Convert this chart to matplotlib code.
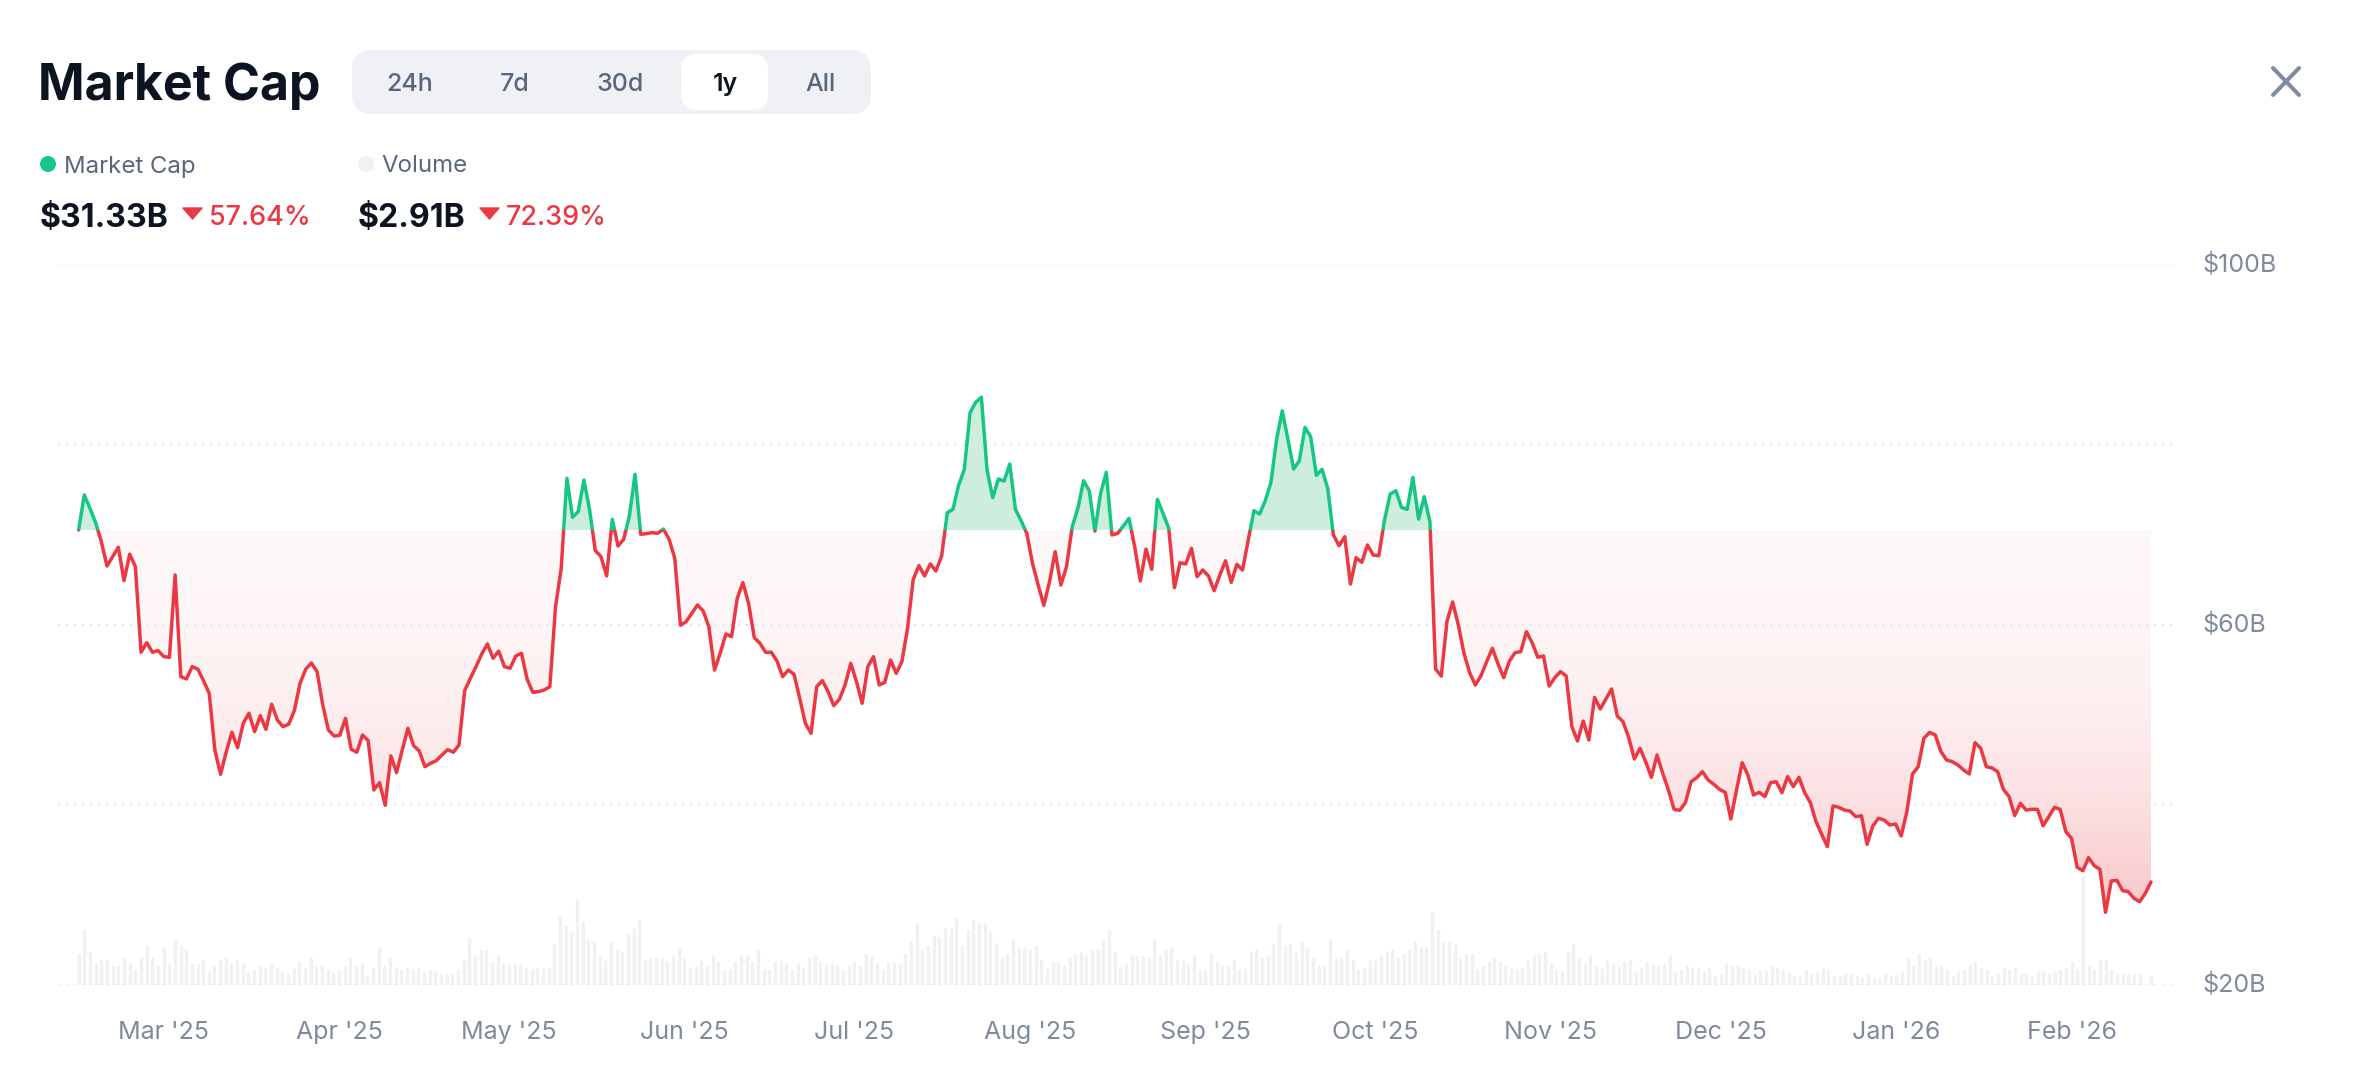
#!/usr/bin/env python3

# Market Cap card: one year of market cap with volume bars underneath

import numpy as np
import pandas as pd
import matplotlib
matplotlib.use("Agg")
import matplotlib.pyplot as plt
import matplotlib.dates as mdates
from matplotlib.patches import FancyBboxPatch, Circle, Polygon, Rectangle
from matplotlib.path import Path
from matplotlib.transforms import ScaledTranslation

plt.rcParams['font.family'] = ['Inter', 'DejaVu Sans']

GREEN = "#16C784"
GREEN_FILL = "#CDEEDD"
RED = "#EA3943"
DARK = "#0D1421"
SLATE = "#58667E"
AXIS_GREY = "#808A9D"
PILL = "#EFF1F5"
GRID = "#E4E6EA"

# market cap in $B, one value per day
market_cap = [
    70.56, 74.45, 72.97, 71.37, 69.26, 66.56, 67.6, 68.63, 64.93, 67.86, 66.49, 56.97, 58.04, 56.97, 57.15,
    56.49, 56.41, 65.56, 54.26, 54.0, 55.37, 55.1, 53.8, 52.41, 46.1, 43.41, 45.9, 48.08, 46.37, 49.08,
    50.19, 48.15, 49.93, 48.41, 51.19, 49.45, 48.71, 48.97, 50.49, 53.52, 55.08, 55.78, 54.82, 51.12, 48.34,
    47.67, 47.74, 49.63, 46.19, 45.86, 47.78, 47.15, 41.67, 42.48, 39.97, 45.45, 43.6, 46.1, 48.52, 46.6,
    46.0, 44.26, 44.63, 44.93, 45.56, 46.15, 45.86, 46.67, 52.71, 54.08, 55.37, 56.78, 57.89, 56.3, 57.1,
    55.37, 55.19, 56.56, 56.86, 53.97, 52.52, 52.6, 52.78, 53.15, 62.04, 66.3, 76.3, 71.97, 72.6, 76.1,
    72.78, 68.26, 67.6, 65.45, 71.74, 68.78, 69.52, 72.1, 76.74, 70.08, 70.15, 70.26, 70.19, 70.67, 69.52,
    67.41, 59.97, 60.37, 61.3, 62.23, 61.56, 59.82, 55.0, 56.86, 59.0, 58.71, 62.97, 64.71, 62.41, 58.6,
    57.97, 56.97, 56.97, 56.0, 54.26, 55.0, 54.52, 51.86, 49.08, 47.97, 53.15, 53.82, 52.6, 51.04, 51.75,
    53.34, 55.74, 53.71, 51.3, 55.37, 56.48, 53.34, 53.63, 56.11, 54.63, 55.93, 59.63, 65.08, 66.6, 65.45,
    66.78, 66.0, 67.67, 72.49, 72.86, 75.56, 77.29, 83.59, 84.74, 85.3, 77.22, 74.15, 76.22, 76.0, 77.89,
    72.85, 71.59, 70.18, 66.85, 64.44, 62.18, 64.81, 68.15, 64.44, 66.48, 70.92, 72.96, 76.03, 74.92, 70.44,
    74.63, 76.96, 70.0, 70.18, 71.0, 71.85, 68.7, 64.89, 68.44, 66.18, 73.96, 72.4, 70.74, 64.14, 66.92,
    66.78, 68.52, 65.37, 66.11, 65.44, 63.81, 65.55, 67.14, 64.74, 66.74, 66.11, 69.44, 72.7, 72.33, 73.81,
    75.85, 80.63, 83.81, 80.55, 77.33, 78.26, 81.96, 80.92, 76.63, 77.29, 75.18, 70.0, 68.81, 69.81, 64.55,
    67.48, 66.96, 68.89, 67.78, 67.7, 71.66, 74.55, 74.92, 73.07, 72.85, 76.4, 71.77, 74.26, 71.48, 55.11,
    54.33, 60.37, 62.56, 60.0, 56.85, 54.7, 53.33, 54.37, 55.93, 57.41, 55.67, 54.15, 56.0, 56.93, 57.04,
    59.26, 58.04, 56.41, 56.56, 53.22, 54.15, 54.82, 54.33, 48.7, 47.11, 49.33, 47.22, 51.96, 50.67, 51.78,
    52.89, 49.89, 49.26, 47.52, 45.11, 46.3, 44.81, 43.07, 45.56, 43.52, 41.67, 39.52, 39.41, 40.26, 42.59,
    43.04, 43.7, 42.78, 42.3, 41.74, 41.41, 38.44, 41.67, 44.7, 43.33, 41.11, 41.41, 40.93, 42.48, 42.59,
    41.37, 43.15, 42.04, 43.07, 41.37, 40.26, 38.15, 36.74, 35.37, 39.89, 39.74, 39.44, 39.33, 38.7, 38.81,
    35.63, 37.67, 38.52, 38.33, 37.78, 37.89, 36.56, 39.26, 43.44, 44.26, 47.41, 48.07, 47.78, 45.93, 45.0,
    44.81, 44.44, 43.89, 43.45, 46.93, 46.3, 44.26, 44.11, 43.7, 41.74, 40.93, 38.82, 40.19, 39.44, 39.52,
    39.52, 37.7, 38.7, 39.74, 39.52, 37.04, 36.3, 33.07, 32.7, 34.15, 33.26, 32.85, 28.07, 31.56, 31.63,
    30.48, 30.37, 29.63, 29.26, 30.19, 31.45,
]

# daily volume in $B
volume = [
    9.9, 17.9, 10.6, 6.6, 7.9, 7.9, 5.9, 5.9, 8.6, 6.6, 4.6, 8.6, 12.6, 8.6, 5.9, 11.9, 6.6, 14.6, 12.6, 11.2,
    6.6, 6.6, 7.9, 3.9, 5.9, 7.9, 8.6, 6.6, 7.9, 6.6, 3.9, 4.6, 5.9, 5.2, 6.6, 5.2, 3.9, 3.2, 5.2, 7.2,
    5.2, 8.6, 5.9, 5.9, 4.6, 3.9, 4.6, 5.9, 8.6, 5.9, 6.6, 2.6, 5.2, 11.9, 5.9, 8.6, 5.2, 4.6, 5.2, 4.6,
    5.2, 3.9, 4.6, 3.9, 3.2, 3.2, 3.2, 4.6, 7.9, 15.2, 9.2, 11.2, 11.2, 7.2, 9.2, 6.6, 6.6, 6.6, 5.9, 5.2,
    4.6, 5.2, 5.2, 5.2, 13.2, 22.6, 19.2, 17.2, 27.9, 20.6, 14.6, 13.9, 9.2, 7.9, 13.9, 11.2, 10.6, 16.6, 18.6, 21.2,
    7.9, 8.6, 8.6, 8.6, 7.2, 9.2, 11.9, 8.6, 5.2, 5.9, 7.9, 5.9, 9.2, 7.2, 4.6, 4.6, 7.2, 9.2, 9.2, 7.2,
    11.2, 4.6, 4.6, 7.2, 7.9, 6.6, 4.6, 6.6, 5.2, 8.6, 9.2, 7.2, 6.6, 6.6, 5.9, 4.6, 5.9, 7.2, 5.9, 9.9,
    9.2, 6.6, 4.6, 7.2, 7.2, 6.6, 9.9, 13.9, 19.9, 11.2, 12.6, 15.9, 15.2, 18.6, 18.6, 21.9, 12.6, 17.9, 21.2, 19.9,
    19.9, 17.2, 13.2, 8.6, 9.9, 14.6, 11.9, 11.9, 11.2, 12.6, 7.9, 5.2, 7.2, 7.2, 5.9, 8.6, 9.9, 10.6, 9.2, 11.2,
    11.2, 14.6, 17.9, 10.6, 5.9, 6.6, 9.2, 9.2, 9.2, 8.6, 14.6, 9.2, 11.2, 11.9, 7.9, 7.9, 6.6, 9.2, 4.6, 4.6,
    9.9, 7.2, 5.9, 5.9, 7.9, 4.6, 5.2, 10.6, 11.2, 8.6, 9.2, 13.2, 19.9, 12.6, 13.2, 10.6, 13.9, 11.9, 8.6, 5.9,
    5.9, 14.6, 8.6, 8.6, 11.2, 7.9, 4.6, 5.2, 7.9, 7.9, 9.2, 10.6, 11.2, 8.6, 9.9, 11.2, 13.9, 11.9, 11.9, 23.9,
    17.9, 13.9, 13.9, 13.2, 8.6, 9.9, 9.9, 4.6, 5.9, 7.2, 8.6, 7.2, 5.9, 5.2, 4.6, 5.2, 7.9, 9.2, 9.9, 10.6,
    6.6, 4.6, 3.9, 10.6, 13.2, 8.6, 6.6, 9.2, 5.9, 5.2, 7.9, 6.6, 5.9, 7.2, 7.9, 3.9, 5.2, 7.2, 6.6, 5.9,
    6.6, 9.2, 3.9, 4.6, 5.9, 5.2, 5.2, 3.9, 5.2, 2.6, 3.2, 6.6, 5.9, 5.9, 5.2, 4.6, 3.2, 4.6, 4.6, 5.9,
    5.2, 4.6, 3.9, 2.6, 2.6, 4.6, 3.2, 3.9, 5.2, 4.6, 2.6, 2.6, 3.2, 3.2, 2.6, 1.9, 3.2, 1.9, 1.9, 3.2,
    2.6, 3.2, 3.9, 8.6, 5.9, 9.9, 7.9, 8.6, 5.9, 5.9, 4.6, 2.6, 3.9, 4.6, 6.6, 7.2, 5.2, 4.6, 2.6, 3.2,
    5.2, 4.6, 5.2, 3.2, 3.2, 2.6, 3.9, 3.9, 3.2, 3.9, 4.6, 5.2, 7.2, 4.6, 36.0, 5.9, 4.6, 7.9, 7.9, 4.6,
    3.2, 3.2, 3.2, 3.2, 3.2, 0, 2.6,
]

start_date = pd.Timestamp("2025-02-14")
end_date = pd.Timestamp("2026-02-15")
open_value = 70.55  # level where the line turns from green to red

month_ticks = ["2025-03-01", "2025-04-01", "2025-05-01", "2025-06-01", "2025-07-01", "2025-08-01",
               "2025-09-01", "2025-10-01", "2025-11-01", "2025-12-01", "2026-01-01", "2026-02-01"]
month_labels = ["Mar '25", "Apr '25", "May '25", "Jun '25", "Jul '25", "Aug '25",
                "Sep '25", "Oct '25", "Nov '25", "Dec '25", "Jan '26", "Feb '26"]
grid_values = [20, 40, 60, 80, 100]
grid_labels = ["$20B", "", "$60B", "", "$100B"]

range_tabs = ["24h", "7d", "30d", "1y", "All"]

W, H = 2360, 1092
fig = plt.figure(figsize=(W / 100, H / 100), dpi=100, facecolor="white")


def px(size):
    # css-like pixel size to points
    return size * 0.72


# plot area in figure pixels
left, right, top, bottom = 58, 2172, 265, 985
rect = [left / W, 1 - bottom / H, (right - left) / W, (bottom - top) / H]

# volume goes on its own axis, behind the price axis
ax_vol = fig.add_axes(rect)
ax = fig.add_axes(rect, sharex=ax_vol)
ax.set_zorder(2)
ax_vol.set_zorder(1)
ax.patch.set_visible(False)

x = mdates.date2num(pd.date_range(start_date, end_date, periods=len(market_cap)))
x_vol = mdates.date2num(pd.date_range(start_date, end_date, periods=len(volume)))
y = np.array(market_cap)

ax.set_ylim(20, 100)
ax_vol.set_ylim(0, 240)
days_per_px = (x[-1] - x[0]) / (2151 - 78.6)
xlim = (x[0] - (78.6 - left) * days_per_px, x[-1] + (right - 2151) * days_per_px)

ax_vol.vlines(x_vol, 0, volume, color=PILL, lw=2.4, capstyle="round")
ax_vol.axis("off")

ax.set_yticks(grid_values)
ax.set_yticklabels(grid_labels)
ax.yaxis.tick_right()
ax.set_xticks(mdates.date2num(pd.to_datetime(month_ticks)))
ax.set_xticklabels(month_labels)
ax.tick_params(axis="both", length=0, labelsize=px(25), labelcolor=AXIS_GREY)
ax.tick_params(axis="y", pad=21.8)
ax.tick_params(axis="x", pad=26)
for lab in ax.get_yticklabels():
    lab.set_transform(lab.get_transform() + ScaledTranslation(0, 2 / 100, fig.dpi_scale_trans))
for s in ax.spines.values():
    s.set_visible(False)
ax.grid(axis="y", color=GRID, lw=1.44, linestyle=(0, (1, 3)), zorder=2)
ax.set_axisbelow(False)

# red area: gradient image clipped to the region under the open level
under = ax.fill_between(x, y, open_value, where=y <= open_value, interpolate=True, color="none")
under_path = Path.make_compound_path(*under.get_paths())
t = np.linspace(0, 1, 256).reshape(-1, 1)
rgba = np.zeros((256, 1, 4))
rgba[..., :3] = matplotlib.colors.to_rgb(RED)
rgba[..., 3] = 0.04 + 0.25 * t ** 2.2
img = ax.imshow(rgba, aspect="auto", origin="upper", zorder=1,
                extent=[x[0], x[-1], min(market_cap), open_value])
img.set_clip_path(under_path, transform=ax.transData)

ax.fill_between(x, y, open_value, where=y >= open_value, interpolate=True,
                color=GREEN_FILL, lw=0, zorder=1)

# same line twice, each colour clipped to its own side of the open level
for colour, lo, hi in [(RED, 0, open_value), (GREEN, open_value, 200)]:
    line, = ax.plot(x, y, color=colour, lw=2.5, solid_joinstyle="round", solid_capstyle="round", zorder=3)
    clip = Rectangle((xlim[0], lo), xlim[1] - xlim[0], hi - lo, transform=ax.transData)
    line.set_clip_path(clip)

ax.set_xlim(xlim)
ax.set_ylim(20, 100)

# header drawn on a pixel-sized overlay
ui = fig.add_axes([0, 0, 1, 1], zorder=5)
ui.set_xlim(0, W)
ui.set_ylim(H, 0)
ui.axis("off")
ui.patch.set_visible(False)

ui.text(38, 100, "Market Cap", fontsize=px(50), fontweight="bold", color=DARK, va="baseline")

ui.add_patch(FancyBboxPatch((352 + 20, 50 + 20), 519 - 40, 64 - 40, boxstyle="round,pad=20,rounding_size=20",
                            fc=PILL, ec="none"))
ui.add_patch(FancyBboxPatch((681 + 16, 54 + 16), 87 - 32, 56 - 32, boxstyle="round,pad=16,rounding_size=16",
                            fc="white", ec="none"))
for name, cx in zip(range_tabs, [410, 515, 620, 725, 821]):
    active = name == "1y"
    ui.text(cx, 82, name, fontsize=px(25), ha="center", va="center_baseline",
            color=DARK if active else SLATE, fontweight="semibold" if active else "medium")

ui.add_patch(Circle((48, 164), 8, fc=GREEN, ec="none"))
ui.text(64, 164, "Market Cap", fontsize=px(24), color=SLATE, va="center_baseline")
ui.add_patch(Circle((366, 164), 8, fc=PILL, ec="none"))
ui.text(381, 164, "Volume", fontsize=px(24), color=SLATE, va="center_baseline")

ui.text(40, 215, "$31.33B", fontsize=px(32), fontweight="bold", color=DARK, va="center_baseline")
ui.add_patch(Polygon([(183, 208), (202, 208), (192.5, 219)], closed=True, fc=RED, ec=RED, lw=1, joinstyle="round"))
ui.text(209, 215, "57.64%", fontsize=px(27), fontweight="medium", color=RED, va="center_baseline")

ui.text(358, 215, "$2.91B", fontsize=px(32), fontweight="bold", color=DARK, va="center_baseline")
ui.add_patch(Polygon([(480, 208), (499, 208), (489.5, 219)], closed=True, fc=RED, ec=RED, lw=1, joinstyle="round"))
ui.text(506, 215, "72.39%", fontsize=px(27), fontweight="medium", color=RED, va="center_baseline")

# close button
for xs in [(2273, 2299), (2299, 2273)]:
    ui.plot(xs, (68, 95), color="#7F8BA0", lw=2.9, solid_capstyle="round")

fig.savefig("out.png", dpi=100, facecolor="white")
